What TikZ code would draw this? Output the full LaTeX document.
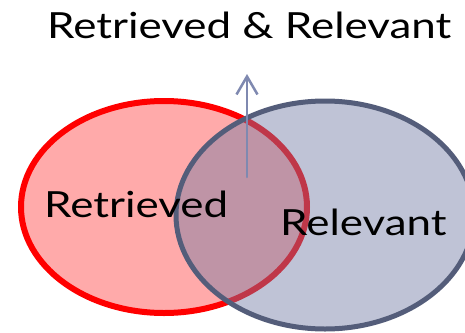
\documentclass[tikz,border=0pt]{standalone}
\usepackage{fontspec}
\setmainfont[FakeStretch=1.22]{Lato}
\usetikzlibrary{arrows.meta}
\definecolor{retred}{RGB}{255,0,0}
\definecolor{retfill}{RGB}{255,170,170}
\definecolor{relline}{RGB}{84,93,122}
\definecolor{relfill}{RGB}{114,123,163}
\definecolor{arrowcol}{RGB}{127,137,176}
\begin{document}
\begin{tikzpicture}[line cap=round,line join=round,x=1pt,y=-1pt,
	lbl/.style={font=\fontsize{36}{40}\selectfont,inner sep=0pt,anchor=base west}]
		% Cadre
		\useasboundingbox (0,0) rectangle (465,332);
		\clip (0,0) rectangle (465,332);
		
		% Ensemble des documents trouves
		\draw[line width=6pt,color=retred,fill=retfill] (164,207) ellipse [x radius=143,y radius=106];
		
		% Ensemble des documents pertinents
		\fill[relfill,fill opacity=0.45] (325,215) ellipse [x radius=149,y radius=114];
		\draw[line width=5pt,color=relline] (325,215) ellipse [x radius=149,y radius=114];
		
		% Etiquettes
		\node[lbl] (retrieved) at (44,217) {Retrieved};
		\node[lbl] (relevant) at (280,235) {Relevant};
		\node[lbl] (both) at (47,38) {Retrieved \& Relevant};
		
		% Fleche vers le titre
		\coordinate (arrowfoot) at (247,177);
		\coordinate (arrowtip) at (247,74);
		\draw[-{Straight Barb[length=18pt,width=21pt]},line width=2.5pt,color=arrowcol] (arrowfoot) -- (arrowtip);
	\end{tikzpicture}
\end{document}
